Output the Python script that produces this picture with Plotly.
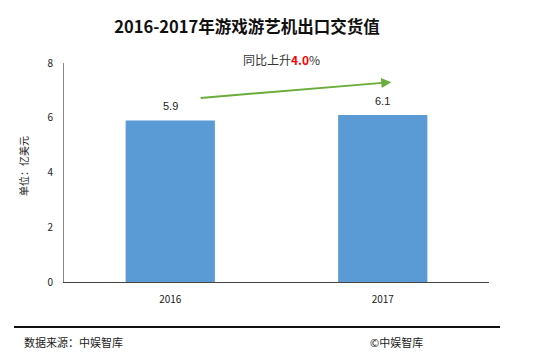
import plotly.graph_objects as go

years = ["2016", "2017"]
values = [5.9, 6.1]
value_labels = ["5.9", "6.1"]
y_ticks = [0, 2, 4, 6, 8]

FONT = "Noto Sans CJK SC"

fig = go.Figure()
fig.add_trace(go.Bar(
    x=years, y=values, width=0.42,
    marker=dict(color="#5B9BD5", line=dict(width=0)),
    hoverinfo="skip",
))

for i, (yv, lab) in enumerate(zip(values, value_labels)):
    fig.add_annotation(x=i, y=yv, xref="x", yref="y", text=lab, showarrow=False,
                       yanchor="bottom", yshift=6,
                       font=dict(family="Liberation Sans", size=11, color="#222"))

fig.update_layout(
    width=550, height=356,
    margin=dict(l=64, r=61, t=63, b=74),
    paper_bgcolor="white", plot_bgcolor="white",
    showlegend=False,
    title=dict(text="<b>2016-2017年游戏游艺机出口交货值</b>", x=(247 / 550), xanchor="center",
               y=1 - 27 / 356, yanchor="middle",
               font=dict(family=FONT, size=16.5, color="#111")),
    xaxis=dict(type="category", showgrid=False, showline=True, linecolor="#444", linewidth=1,
               ticks="", tickfont=dict(family=FONT, size=10, color="#222"),
               ticklabelstandoff=8),
    yaxis=dict(range=[0, 8], tickvals=y_ticks, showgrid=False, showline=True,
               linecolor="#888", linewidth=1, ticks="", zeroline=False,
               tickfont=dict(family=FONT, size=10, color="#222"),
               ticklabelstandoff=8),
)

fig.add_annotation(xref="paper", yref="paper", x=(23 - 64) / 425, y=(282 - 166) / 219,
                   xanchor="center", yanchor="middle",
                   text="单位：亿美元", textangle=-90, showarrow=False,
                   font=dict(family=FONT, size=10, color="#222"))

# growth arrow
fig.add_annotation(x=1.04, y=7.30, ax=0.136, ay=6.72, xref="x", yref="y", axref="x", ayref="y",
                   text="", showarrow=True, arrowhead=2, arrowsize=1, arrowwidth=2,
                   arrowcolor="#6AAD3A")
fig.add_annotation(xref="paper", yref="paper", x=(281 - 64) / 425, y=(282 - 59) / 219,
                   xanchor="center", yanchor="middle",
                   text="同比上升<b><span style='color:#FF0000'>4.0</span></b>%", showarrow=False,
                   font=dict(family=FONT, size=12, color="#333"))

# footer
fig.add_shape(type="line", xref="paper", yref="paper",
              x0=(14 - 64) / 425, x1=(500 - 64) / 425,
              y0=(282 - 327) / 219, y1=(282 - 327) / 219,
              line=dict(color="#111", width=2))
fig.add_annotation(xref="paper", yref="paper", x=(22 - 64) / 425, y=(282 - 342) / 219,
                   xanchor="left", yanchor="middle", text="数据来源：中娱智库", showarrow=False,
                   font=dict(family=FONT, size=11, color="#222"))
fig.add_annotation(xref="paper", yref="paper", x=(368 - 64) / 425, y=(282 - 342) / 219,
                   xanchor="left", yanchor="middle", text="©中娱智库", showarrow=False,
                   font=dict(family=FONT, size=11, color="#222"))

fig.write_html("out.html", config={"displayModeBar": False},
               post_script="document.body.style.margin='0';")
